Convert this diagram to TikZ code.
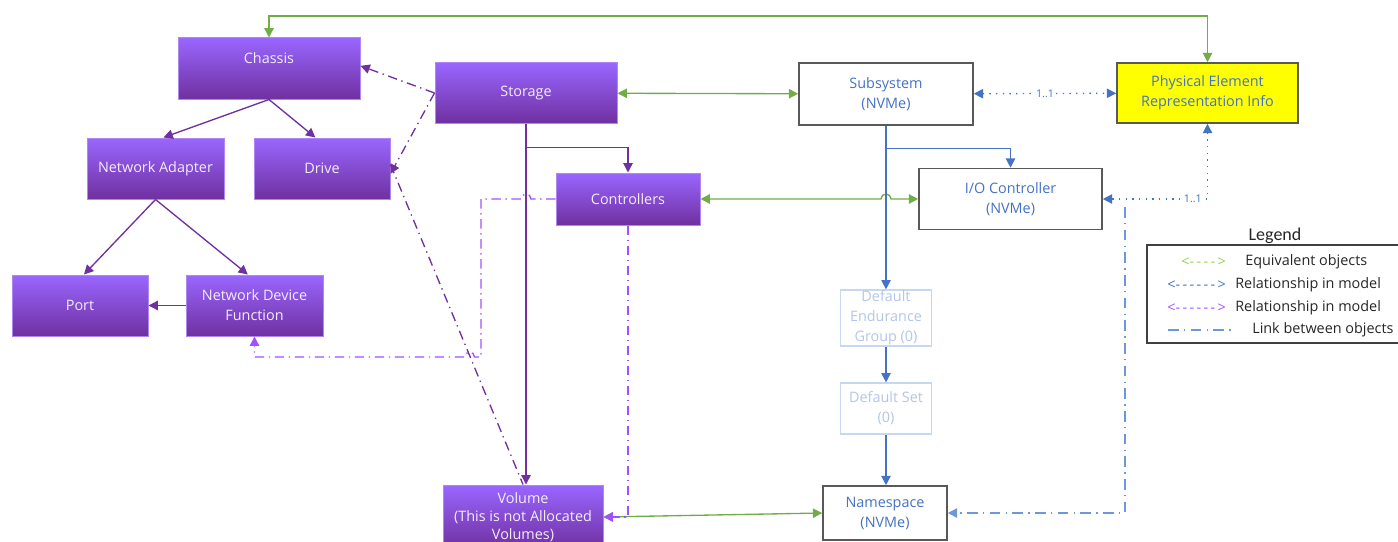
\documentclass[tikz,border=0pt]{standalone}
\usepackage{fontspec}
\setmainfont{Open Sans}
\newfontfamily\legendfont{Carlito}
\usetikzlibrary{arrows.meta,calc}
\newcommand\lgdash{\mbox{-}\kern1.8pt}

\begin{document}
\begin{tikzpicture}[x=0.75pt,y=0.75pt,yscale=-1,xscale=1,
  font=\fontsize{10.8}{15}\selectfont,
  >={Triangle[length=7pt,width=7pt]},
  boxsize/.style 2 args={minimum width=#1*0.75pt,minimum height=#2*0.75pt},
  purplebox/.style={draw={rgb, 255:red, 175; green, 135; blue, 240 },line width=0.75pt,
    top color={rgb, 255:red, 153; green, 102; blue, 255 },bottom color={rgb, 255:red, 112; green, 48; blue, 160 },
    text={rgb, 255:red, 244; green, 236; blue, 255 },align=center,inner sep=0pt},
  nvmebox/.style={draw={rgb, 255:red, 89; green, 89; blue, 89 },line width=1.2pt,fill=white,
    text={rgb, 255:red, 68; green, 114; blue, 196 },align=center,inner sep=0pt},
  fadedbox/.style={draw={rgb, 255:red, 200; green, 215; blue, 240 },line width=0.9pt,fill=white,
    text={rgb, 255:red, 180; green, 198; blue, 231 },align=center,inner sep=0pt},
  eqv/.style={draw={rgb, 255:red, 112; green, 173; blue, 71 },line width=1pt},
  rel/.style={draw={rgb, 255:red, 68; green, 114; blue, 196 },line width=1pt},
  reldot/.style={rel,dash pattern=on 1pt off 4pt},
  link/.style={draw={rgb, 255:red, 110; green, 150; blue, 220 },line width=1.2pt,
    dash pattern=on 8pt off 4pt on 1pt off 4pt},
  has/.style={draw={rgb, 255:red, 112; green, 48; blue, 160 },line width=1pt},
  assoc/.style={has,dash pattern=on 7pt off 3.5pt on 1pt off 3.5pt},
  ctl/.style={draw={rgb, 255:red, 160; green, 80; blue, 255 },line width=1pt,
    dash pattern=on 7pt off 3.5pt on 1pt off 3.5pt},
  lbl/.style={font=\fontsize{8}{9}\selectfont,text={rgb, 255:red, 68; green, 114; blue, 196 },fill=white,inner sep=1pt},
  legendtext/.style={anchor=west,inner sep=0pt,text={rgb, 255:red, 38; green, 38; blue, 38 }}
]
\useasboundingbox (0,0) rectangle (1398,542);
\clip (0,0) rectangle (1398,542);

%Shape: Rectangle [Chassis]
\node[purplebox,boxsize={182}{61},text depth=16pt] (chassis) at (269,68.5) {Chassis};
%Shape: Rectangle [Network Adapter]
\node[purplebox,boxsize={137}{61}] (netadapter) at (155.5,168.5) {Network Adapter};
%Shape: Rectangle [Drive]
\node[purplebox,boxsize={136}{61}] (drive) at (322,168.5) {Drive};
%Shape: Rectangle [Port]
\node[purplebox,boxsize={136}{61}] (port) at (80,305.5) {Port};
%Shape: Rectangle [Network Device Function]
\node[purplebox,boxsize={137}{61}] (netdevfn) at (254.5,305.5) {Network Device\\Function};
%Shape: Rectangle [Storage]
\node[purplebox,boxsize={182}{60}] (storage) at (526,93) {Storage};
%Shape: Rectangle [Controllers]
\node[purplebox,boxsize={144}{52}] (controllers) at (628,199) {Controllers};
%Shape: Rectangle [Volume]
\node[purplebox,boxsize={160}{64},font=\fontsize{10.8}{13.5}\selectfont] (volume) at (523,517) {Volume\\(This is not Allocated\\Volumes)};

%Shape: Rectangle [Subsystem]
\node[nvmebox,boxsize={174}{62}] (subsystem) at (886,94) {Subsystem\\(NVMe)};
%Shape: Rectangle [Physical Element Representation Info]
\node[nvmebox,boxsize={181}{60},fill={rgb, 255:red, 255; green, 255; blue, 0 }] (peri) at (1207.5,93) {Physical Element\\Representation Info};
%Shape: Rectangle [I/O Controller]
\node[nvmebox,boxsize={183}{61}] (ioctrl) at (1010.5,199) {I/O Controller\\(NVMe)};
%Shape: Rectangle [Default Endurance Group]
\node[fadedbox,boxsize={91}{56}] (deg) at (886,318) {Default\\Endurance\\Group (0)};
%Shape: Rectangle [Default Set]
\node[fadedbox,boxsize={91}{51}] (defset) at (886,408.5) {Default Set\\(0)};
%Shape: Rectangle [Namespace]
\node[nvmebox,boxsize={124}{54}] (namespace) at (885,513) {Namespace\\(NVMe)};

%Straight Lines [equivalent objects]
\coordinate (greentop) at (740,16);
\draw[eqv,<->] (chassis.north) |- (greentop) -| (peri.north);
\draw[eqv,<->] (storage) -- (subsystem);
\draw[eqv,<->] (controllers.east) -- (881,199) arc[start angle=180,end angle=360,radius=5] -- (ioctrl.west);
\draw[eqv,<->] (volume.east) -- (namespace.west);

%Straight Lines [nvme model]
\draw[rel,->] (subsystem) -- (deg);
\draw[rel,->] ($(subsystem.south)+(0,23)$) -| (ioctrl.north);
\draw[rel,->] (deg) -- (defset);
\draw[rel,->] (defset.south) -- (defset.south |- namespace.north);
\draw[reldot,<->] (subsystem) -- node[lbl]{1..1} (peri);
\draw[reldot,<->] (peri.south) |- node[lbl,pos=0.57]{1..1} (ioctrl.east);
\coordinate (linktop) at (1125,207);
\draw[link,->] (linktop) |- (namespace.east);

%Straight Lines [redfish model]
\draw[has,->] (chassis.south) -- ([xshift=6pt]netadapter.north);
\draw[has,->] (chassis.south) -- ([xshift=-5pt]drive.north);
\draw[has,->] (netadapter.south) -- ([xshift=3pt]port.north);
\draw[has,->] (netadapter.south) -- ([xshift=-5pt]netdevfn.north);
\draw[has,->] (netdevfn) -- (port);
\draw[has,->] (storage.south) -- (storage.south |- volume.north);
\draw[has,->] ($(storage.south)+(0,24)$) -| (controllers.north);
\draw[assoc,->] (storage.west) -- ([yshift=-2pt]chassis.east);
\draw[assoc,->] (storage.west) -- ([yshift=4pt]drive.east);
\draw[assoc] ([yshift=-3pt]drive.east) -- (volume.north);

%Straight Lines [controller links]
\draw[ctl,->] (controllers.west) -- (531,199) arc[start angle=0,end angle=-180,radius=5] -- (481,199) -- (481,357)
  -- (474.5,357) arc[start angle=0,end angle=-180,radius=5] -| (netdevfn.south);
\draw[ctl,->] (controllers.south) |- (volume.east);

%Text Node [Legend]
\node[font=\legendfont\fontsize{13.5}{15}\selectfont,text={rgb, 255:red, 38; green, 38; blue, 38 }] (legendtitle) at (1275,236) {Legend};
\node[draw={rgb, 255:red, 64; green, 64; blue, 64 },line width=1pt,boxsize={263}{98}] (legend) at (1278.5,294) {};
\node[legendtext,text={rgb, 255:red, 146; green, 208; blue, 80 }] (eqvsample) at (1181,262) {<\lgdash\lgdash\lgdash\lgdash>};
\node[legendtext] (eqvtext) at (1245,262) {Equivalent objects};
\node[legendtext,text={rgb, 255:red, 68; green, 114; blue, 196 }] (relsample) at (1167,285) {<\lgdash\lgdash\lgdash\lgdash\lgdash\lgdash>};
\node[legendtext] (reltext) at (1235,285) {Relationship in model};
\node[legendtext,text={rgb, 255:red, 160; green, 80; blue, 255 }] (ctlsample) at (1167,308) {<\lgdash\lgdash\lgdash\lgdash\lgdash\lgdash>};
\node[legendtext] (ctltext) at (1235,308) {Relationship in model};
\coordinate (linksample) at (1168,330);
\node[legendtext] (linktext) at (1252,330) {Link between objects};
\draw[link] (linksample) -- ($(linksample)+(67,0)$);

\end{tikzpicture}
\end{document}
